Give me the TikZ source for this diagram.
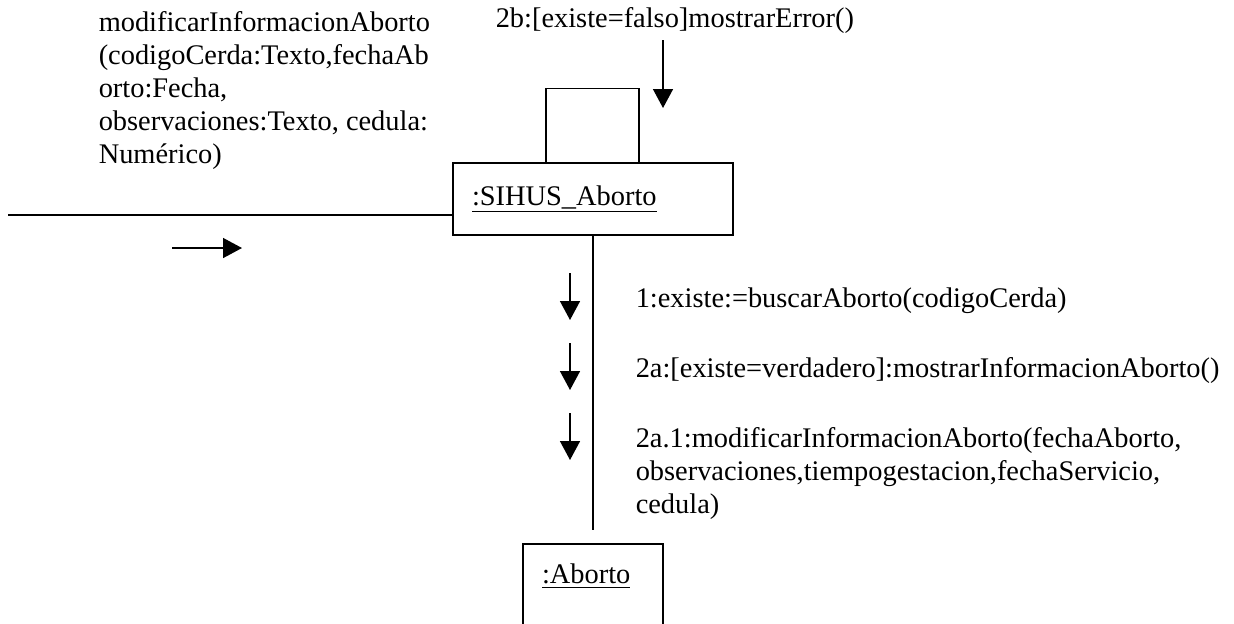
\documentclass[tikz,border=0pt]{standalone}
\usepackage{fontspec}
\setmainfont{Liberation Serif}
\usepackage{tikz}
\usetikzlibrary{arrows.meta, positioning, calc}

\begin{document}
\begin{tikzpicture}[x=0.5pt, y=-0.5pt, line width=0.75pt,
    >={Triangle[length=9.5pt, width=10pt]},
    every node/.style={font=\fontsize{14.2pt}{16.5pt}\selectfont},
    objeto/.style={draw, rectangle, minimum width=140pt, minimum height=36pt,
        text width=121pt, inner xsep=9.5pt, align=left},
    msg/.style={anchor=base west, inner sep=0pt, align=left}]

    \useasboundingbox (0,0) rectangle (1234,623);
    \clip (0,0) rectangle (1234,623);

    % objetos
    \node[objeto] (sihus) at (593,199) {\underline{:SIHUS\_Aborto}};
    \node[objeto, minimum width=70pt, text width=51pt, anchor=north,
        text height=9.7pt, text depth=60pt, inner ysep=10.3pt] (aborto) at (593,543) {\underline{:Aborto}};

    % enlaces
    \coordinate (entrada) at (8,215);
    \draw (entrada) -- (entrada -| sihus.west);
    \draw ([xshift=-23.5pt]sihus.north) -- ++(0,-74) -| ([xshift=23pt]sihus.north);
    \draw (sihus.south) -- ([yshift=6.5pt]aborto.north);

    % mensajes (varias lineas: base = ultima linea)
    \node[msg] (msgIn) at (98,163) {modificarInformacionAborto\\(codigoCerda:Texto,fechaAb\\orto:Fecha,\\observaciones:Texto, cedula:\\Numérico)};
    \node[msg] (msgError) at (495,27) {2b:[existe=falso]mostrarError()};
    \node[msg] (msg1) at (635,307) {1:existe:=buscarAborto(codigoCerda)};
    \node[msg] (msg2) at (635,377) {2a:[existe=verdadero]:mostrarInformacionAborto()};
    \node[msg] (msg3) at (635,513) {2a.1:modificarInformacionAborto(fechaAborto,\\observaciones,tiempogestacion,fechaServicio,\\cedula)};

    \draw[->] (663,40) -- (663,108);
    \draw[->] (172,248) -- (242,248);
    \foreach \y in {273,343,413}
        \draw[->] (570,\y) -- (570,\y+47);

\end{tikzpicture}
\end{document}
